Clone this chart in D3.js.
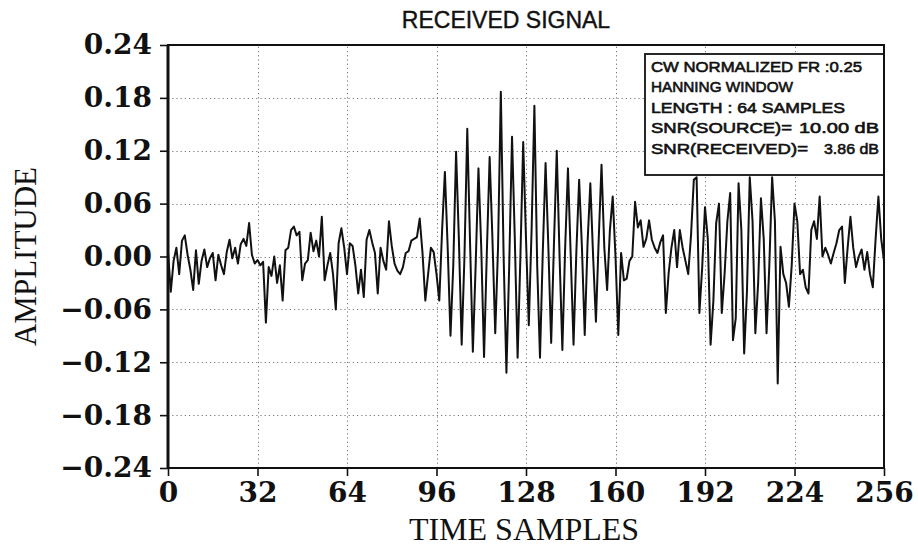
<!DOCTYPE html>
<html>
<head>
<meta charset="utf-8">
<script src="https://cdn.jsdelivr.net/npm/d3@7"></script>
<style>
  html, body { margin: 0; padding: 0; background: #fff; }
  svg { display: block; }
</style>
</head>
<body>
<svg id="chart" width="918" height="552"></svg>
<script>
// Received signal: noise, a Hanning-windowed CW burst, and a weaker echo
const amplitude = [
  0.005, -0.040, -0.005, 0.010, -0.020, 0.018, 0.024, 0.002, -0.015, -0.038,
  0.007, -0.031, -0.005, 0.008, -0.012, -0.002, 0.004, -0.027, 0.002, -0.010,
  -0.020, 0.005, 0.019, -0.002, 0.010, -0.008, 0.014, 0.020, 0.012, 0.038,
  0.002, -0.008, -0.004, -0.010, -0.006, -0.075, -0.012, -0.022, 0.000, -0.030,
  -0.010, -0.050, 0.007, 0.010, 0.030, 0.034, 0.024, 0.028, -0.027, -0.008,
  -0.004, 0.027, 0.006, 0.018, 0.000, 0.045, -0.027, -0.010, 0.004, -0.020,
  -0.060, 0.015, 0.032, 0.010, -0.020, 0.015, 0.012, -0.010, -0.042, -0.015,
  -0.046, 0.019, 0.030, 0.016, 0.004, -0.042, 0.010, -0.005, -0.015, 0.040,
  0.012, -0.008, -0.016, -0.020, -0.012, 0.004, 0.006, 0.018, 0.020, 0.022,
  0.043, 0.004, -0.050, -0.020, 0.010, 0.005, -0.020, -0.050, 0.030, 0.096,
  0.010, -0.090, -0.010, 0.119, 0.020, -0.100, 0.000, 0.145, 0.015, -0.108,
  -0.010, 0.100, 0.010, -0.114, 0.005, 0.113, 0.020, -0.087, 0.010, 0.187,
  0.000, -0.132, -0.010, 0.136, 0.020, -0.115, 0.000, 0.130, 0.020, -0.078,
  0.030, 0.171, -0.010, -0.115, 0.005, 0.106, 0.010, -0.098, 0.015, 0.120,
  0.000, -0.106, 0.010, 0.100, 0.000, -0.100, 0.005, 0.087, 0.010, -0.089,
  0.015, 0.083, 0.000, -0.074, 0.020, 0.104, 0.010, -0.038, 0.030, 0.068,
  0.000, -0.089, 0.004, -0.027, -0.025, -0.005, 0.000, 0.062, 0.033, 0.041,
  0.011, 0.020, 0.041, 0.019, 0.010, 0.004, 0.016, 0.024, -0.064, -0.019,
  0.010, 0.030, -0.012, 0.030, 0.010, -0.005, -0.020, 0.024, 0.087, 0.090,
  -0.064, -0.012, 0.056, 0.020, -0.100, -0.050, 0.038, 0.060, -0.064, -0.020,
  0.040, 0.072, -0.095, -0.070, 0.083, 0.030, -0.110, -0.040, 0.090, 0.040,
  -0.087, -0.030, 0.066, 0.020, -0.087, -0.010, 0.090, 0.040, -0.144, 0.011,
  -0.020, -0.030, -0.057, -0.010, 0.060, 0.040, -0.020, -0.015, -0.035, -0.042,
  0.030, 0.040, 0.020, 0.068, 0.000, 0.010, 0.002, -0.008, 0.004, 0.015,
  0.030, 0.034, -0.030, 0.010, 0.045, 0.010, -0.012, 0.000, 0.008, -0.015,
  0.005, -0.020, -0.035, 0.020, 0.068, 0.020, -0.005
];
const xTicks = [0, 32, 64, 96, 128, 160, 192, 224, 256];
const yTicks = [-0.24, -0.18, -0.12, -0.06, 0.00, 0.06, 0.12, 0.18, 0.24];
const infoLabels = [
  "CW NORMALIZED FR :0.25",
  "HANNING WINDOW",
  "LENGTH : 64 SAMPLES",
  "SNR(SOURCE)=",
  "SNR(RECEIVED)="
];
const infoValues = ["", "", "", "10.00 dB", "3.86 dB"];

const svg = d3.select("#chart");
const W = 918, H = 552;
const m = { left: 168, right: 34, top: 45, bottom: 84 };
const x = d3.scaleLinear().domain([0, 256]).range([m.left, W - m.right]);
const y = d3.scaleLinear().domain([-0.24, 0.24]).range([H - m.bottom, m.top]);

const serif = "'DejaVu Serif', 'Liberation Serif', serif";
const sans = "'Liberation Sans', Arial, sans-serif";

// dotted grid
const grid = svg.append("g").attr("stroke", "#777").attr("stroke-width", 1)
  .attr("stroke-dasharray", "1.2,3");
grid.selectAll("line.h").data(yTicks.slice(1, -1)).join("line")
  .attr("x1", x(0)).attr("x2", x(256))
  .attr("y1", d => Math.round(y(d)) + 0.5).attr("y2", d => Math.round(y(d)) + 0.5);
grid.selectAll("line.v").data(xTicks.slice(1, -1)).join("line")
  .attr("y1", y(-0.24)).attr("y2", y(0.24))
  .attr("x1", d => Math.round(x(d)) + 0.5).attr("x2", d => Math.round(x(d)) + 0.5);

// signal trace
const line = d3.line().x((d, i) => x(i)).y(d => y(d));
svg.append("path").datum(amplitude)
  .attr("d", line).attr("fill", "none")
  .attr("stroke", "#111").attr("stroke-width", 2)
  .attr("stroke-linejoin", "round");

// info box
const box = { x0: 645, y0: 54, y1: 175 };
svg.append("rect")
  .attr("x", box.x0).attr("y", box.y0)
  .attr("width", x(256) - box.x0).attr("height", box.y1 - box.y0)
  .attr("fill", "#fff").attr("stroke", "#111").attr("stroke-width", 1.8);
const labelWidths = [211, 142, 194, 141, 157];
const valueWidths = [0, 0, 0, 80, 55];
const info = svg.append("g").attr("font-family", sans).attr("font-size", 15)
  .attr("fill", "#111").attr("stroke", "#111").attr("stroke-width", 0.6);
infoLabels.forEach((t, i) => {
  const by = 72 + i * 20.4;
  info.append("text").attr("x", 651).attr("y", by)
    .attr("textLength", labelWidths[i]).attr("lengthAdjust", "spacingAndGlyphs")
    .text(t);
  if (infoValues[i]) info.append("text").attr("x", 879 - valueWidths[i]).attr("y", by)
    .attr("textLength", valueWidths[i]).attr("lengthAdjust", "spacingAndGlyphs")
    .text(infoValues[i]);
});

// axes
const yAxis = d3.axisLeft(y).tickValues(yTicks).tickFormat(d3.format(".2f"))
  .tickSize(8).tickPadding(8);
const xAxis = d3.axisBottom(x).tickValues(xTicks).tickFormat(d3.format("d"))
  .tickSize(8).tickPadding(6);

const gy = svg.append("g").attr("transform", `translate(${m.left},0)`).call(yAxis);
const gx = svg.append("g").attr("transform", `translate(0,${H - m.bottom})`).call(xAxis);
[gy, gx].forEach(g => {
  g.select(".domain").remove();
  g.selectAll(".tick line").attr("stroke", "#111").attr("stroke-width", 1.6);
  g.selectAll(".tick text").attr("fill", "#111")
    .attr("font-family", serif).attr("font-size", 28).attr("font-weight", "bold");
});

// frame
svg.append("rect")
  .attr("x", x(0)).attr("y", y(0.24))
  .attr("width", x(256) - x(0)).attr("height", y(-0.24) - y(0.24))
  .attr("fill", "none").attr("stroke", "#111").attr("stroke-width", 2);
svg.append("line").attr("x1", x(0)).attr("x2", x(0))
  .attr("y1", y(0.24)).attr("y2", y(-0.24))
  .attr("stroke", "#111").attr("stroke-width", 3);

// titles
svg.append("text").attr("x", 506).attr("y", 28).attr("text-anchor", "middle")
  .attr("font-family", sans).attr("font-size", 23).attr("fill", "#111")
  .attr("stroke", "#111").attr("stroke-width", 0.4)
  .text("RECEIVED SIGNAL");
svg.append("text").attr("x", 524).attr("y", 540).attr("text-anchor", "middle")
  .attr("font-family", "'Liberation Serif', serif").attr("font-size", 32)
  .attr("fill", "#111").text("TIME SAMPLES");
svg.append("text")
  .attr("transform", `translate(36,${(y(0.24) + y(-0.24)) / 2}) rotate(-90)`)
  .attr("text-anchor", "middle")
  .attr("font-family", "'Liberation Serif', serif").attr("font-size", 31)
  .attr("fill", "#111").text("AMPLITUDE");
</script>
</body>
</html>
